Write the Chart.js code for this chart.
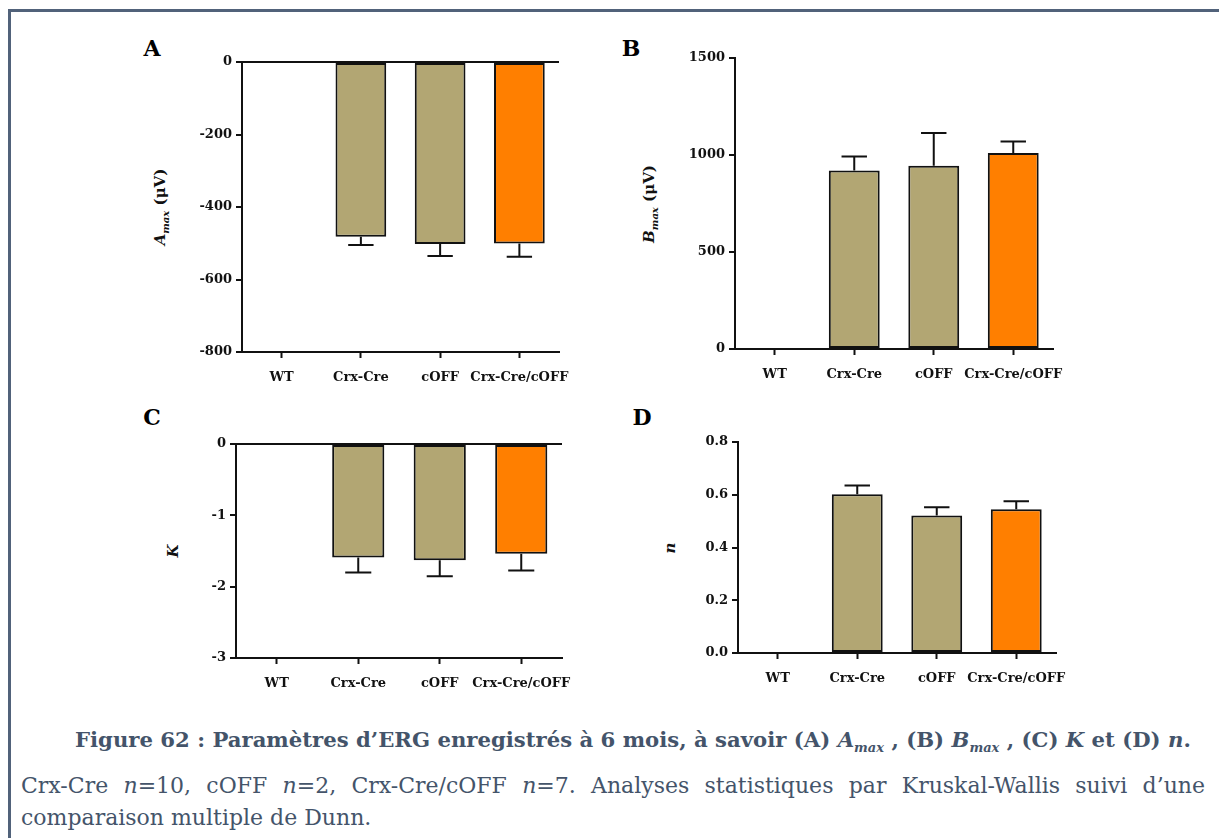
<!DOCTYPE html>
<html>
<head>
<meta charset="utf-8">
<script src="https://cdn.jsdelivr.net/npm/chart.js@4.4.1/dist/chart.umd.min.js"></script>
<style>
  html, body { margin: 0; padding: 0; background: #fff; overflow: hidden; }
  #page { width: 1219px; height: 838px; position: relative; overflow: hidden; font-family: 'DejaVu Serif', serif; }
  .rule-top { position: absolute; left: 8px; top: 9px; width: 1211px; height: 3px; background: #51627a; }
  .rule-left { position: absolute; left: 8px; top: 9px; width: 3px; height: 829px; background: #51627a; }
  .panel { position: absolute; }
  .letter { position: absolute; font-weight: bold; font-size: 22px; color: #000; transform: translate(-50%, -50%); }
  .ytitle { position: absolute; white-space: nowrap; font-weight: bold; font-size: 15px; color: #111; transform: translate(-50%, -50%) rotate(-90deg); }
  .ytitle sub { font-size: 10px; }
  .cap-title { position: absolute; left: 75px; width: 1115px; top: 727px; text-align: center; white-space: nowrap;
               font-weight: bold; font-size: 21.2px; color: #44546a; }
  .cap-title sub { font-size: 13px; }
  .cap-body { position: absolute; left: 21px; width: 1184px; font-size: 22px; color: #44546a; }
  .line1 { top: 773px; text-align: justify; text-align-last: justify; }
  .line2 { top: 805px; }
</style>
</head>
<body>
<div id="page">
<div class="rule-top"></div>
<div class="rule-left"></div>

<div class="letter" style="left:152px; top:48px;">A</div>
<div class="letter" style="left:631px; top:48px;">B</div>
<div class="letter" style="left:152px; top:417px;">C</div>
<div class="letter" style="left:642px; top:417px;">D</div>

<div class="ytitle" style="left:161px; top:207px;"><i>A<sub>max</sub></i> (μV)</div>
<div class="ytitle" style="left:650px; top:204px;"><i>B<sub>max</sub></i> (μV)</div>
<div class="ytitle" style="left:173px; top:551px;"><i>K</i></div>
<div class="ytitle" style="left:670px; top:548px;"><i>n</i></div>

<canvas id="chartA" class="panel" width="447" height="350" style="left:142px; top:42px;"></canvas>
<canvas id="chartB" class="panel" width="448" height="351" style="left:635px; top:38px;"></canvas>
<canvas id="chartC" class="panel" width="456" height="274" style="left:136px; top:424px;"></canvas>
<canvas id="chartD" class="panel" width="448" height="271" style="left:638px; top:422px;"></canvas>

<div class="cap-title">Figure 62 : Paramètres d’ERG enregistrés à 6 mois, à savoir (A) <i>A<sub>max</sub></i> , (B) <i>B<sub>max</sub></i> , (C) <i>K</i> et (D) <i>n</i>.</div>
<div class="cap-body line1">Crx-Cre <i>n</i>=10, cOFF <i>n</i>=2, Crx-Cre/cOFF <i>n</i>=7. Analyses statistiques par Kruskal-Wallis suivi d’une</div>
<div class="cap-body line2">comparaison multiple de Dunn.</div>
</div>

<script>
// groupes
const groups = ['WT', 'Crx-Cre', 'cOFF', 'Crx-Cre/cOFF'];
const barColors = ['#b2a673', '#b2a673', '#b2a673', '#ff7f00'];

// A : Amax (µV), moyenne et SEM
const amaxMean = [null, -482, -502, -501];
const amaxSem = [null, 23, 33, 36];
const amaxTicks = [-800, -600, -400, -200, 0];

// B : Bmax (µV)
const bmaxMean = [null, 920, 944, 1010];
const bmaxSem = [null, 72, 169, 60];
const bmaxTicks = [0, 500, 1000, 1500];

// C : K
const kMean = [null, -1.59, -1.63, -1.54];
const kSem = [null, 0.21, 0.225, 0.235];
const kTicks = [-3, -2, -1, 0];

// D : n
const nMean = [null, 0.602, 0.521, 0.545];
const nSem = [null, 0.033, 0.032, 0.030];
const nTicks = [0, 0.2, 0.4, 0.6, 0.8];

Chart.defaults.font.family = "'DejaVu Serif', serif";
Chart.defaults.font.size = 13;
Chart.defaults.font.weight = 'bold';
Chart.defaults.color = '#111';

// barres d'erreur (SEM) dessinées à partir de l'échelle y
const errorBars = {
    id: 'errorBars',
    afterDatasetsDraw(chart, args, opts) {
        const errs = opts.values;
        if (!errs) return;
        const ctx = chart.ctx;
        const yScale = chart.scales.y;
        const values = chart.data.datasets[0].data;
        const meta = chart.getDatasetMeta(0);
        ctx.save();
        ctx.strokeStyle = '#111';
        ctx.lineWidth = 2;
        meta.data.forEach((bar, i) => {
            const v = values[i], e = errs[i];
            if (v == null || e == null) return;
            const end = v < 0 ? v - e : v + e;
            const y0 = yScale.getPixelForValue(v);
            const y1 = yScale.getPixelForValue(end);
            const half = bar.width / 4;
            ctx.beginPath();
            ctx.moveTo(bar.x, y0);
            ctx.lineTo(bar.x, y1);
            ctx.moveTo(bar.x - half, y1);
            ctx.lineTo(bar.x + half, y1);
            ctx.stroke();
        });
        ctx.restore();
    }
};

function makeChart(id, means, sems, tickValues, fmt) {
    const lo = tickValues[0], hi = tickValues[tickValues.length - 1];
    return new Chart(document.getElementById(id), {
        type: 'bar',
        data: {
            labels: groups,
            datasets: [{
                data: means,
                backgroundColor: barColors,
                borderColor: '#111',
                borderWidth: 2,
                borderSkipped: false,
                categoryPercentage: 1,
                barPercentage: 0.64
            }]
        },
        options: {
            responsive: false,
            animation: false,
            layout: { padding: { top: 20, right: 30, left: 0, bottom: 0 } },
            scales: {
                x: {
                    offset: true,
                    afterFit: s => { s.height = 40; },
                    grid: { offset: false, drawOnChartArea: false, drawTicks: true, tickLength: 6, tickWidth: 2, tickColor: '#111' },
                    border: { display: true, color: '#111', width: 2 },
                    ticks: { padding: 12, maxRotation: 0, autoSkip: false }
                },
                y: {
                    min: lo,
                    max: hi,
                    afterFit: s => { s.width = 100; },
                    afterBuildTicks: s => { s.ticks = tickValues.map(v => ({ value: v })); },
                    grid: {
                        color: c => (c.tick && c.tick.value === 0 ? '#111' : 'rgba(0,0,0,0)'),
                        lineWidth: 2,
                        tickLength: 6,
                        tickWidth: 2,
                        tickColor: '#111'
                    },
                    border: { display: true, color: '#111', width: 2 },
                    ticks: { padding: 4, callback: v => fmt(v) }
                }
            },
            plugins: {
                legend: { display: false },
                tooltip: { enabled: false },
                errorBars: { values: sems }
            }
        },
        plugins: [errorBars]
    });
}

makeChart('chartA', amaxMean, amaxSem, amaxTicks, v => String(v));
makeChart('chartB', bmaxMean, bmaxSem, bmaxTicks, v => String(v));
makeChart('chartC', kMean, kSem, kTicks, v => String(v));
makeChart('chartD', nMean, nSem, nTicks, v => v.toFixed(1));
</script>
</body>
</html>
